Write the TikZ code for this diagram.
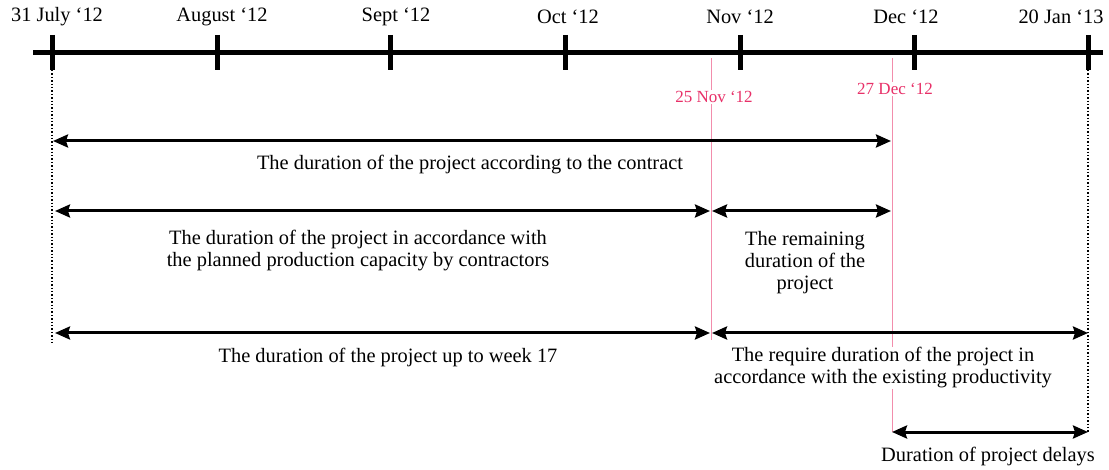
\documentclass[tikz,border=0pt]{standalone}
\usepackage{fontspec}
\setmainfont{Liberation Serif}
\usetikzlibrary{arrows.meta}

\definecolor{datepink}{RGB}{232,48,104}

\begin{document}
\begin{tikzpicture}[x=1pt, y=-1pt,
  span/.style={line width=3pt, {Stealth[length=15pt,width=13pt,inset=2pt]}-{Stealth[length=15pt,width=13pt,inset=2pt]}},
  txt/.style={font=\fontsize{20.4}{22}\selectfont, align=center, inner sep=1pt, fill=white},
  datetxt/.style={font=\fontsize{17}{18}\selectfont, text=datepink, fill=white, inner sep=1pt},
  guide/.style={dotted, line width=1.4pt},
  pinkline/.style={datepink!55, line width=0.9pt}]

\useasboundingbox (0,0) rectangle (1109,470);

% time axis
\draw[line width=5pt] (33,53) -- (1103,53);
\foreach \x/\lx/\nm/\lab in {52/57/jul/31 July ‘12, 217/222/aug/August ‘12, 390/396/sep/Sept ‘12,
    565/568/oct/Oct ‘12, 740/740/nov/Nov ‘12, 914/906/dec/Dec ‘12, 1088/1061/jan/20 Jan ‘13}{
  \draw[line width=5pt] (\x,35) -- (\x,70);
  \coordinate (\nm) at (\x,70);
  \node[txt] (\nm lab) at (\lx,17) {\lab};
}

% dates inside the axis
\coordinate (n25) at (711,58);
\coordinate (d27) at (892,58);
\draw[pinkline] (n25) -- (711,340);
\draw[pinkline] (d27) -- (892,432);
\node[datetxt] (n25lab) at (714,97) {25 Nov ‘12};
\node[datetxt] (d27lab) at (895,89) {27 Dec ‘12};

\draw[guide] (jul) -- (52,345);
\draw[guide] (jan) -- (1088,432);

% durations
\coordinate (a1l) at (53,141);  \coordinate (a1r) at (891,141);
\coordinate (a2l) at (55,211);  \coordinate (a2m) at (710,211);
\coordinate (a2n) at (712,211); \coordinate (a2r) at (891,211);
\coordinate (a3l) at (55,333);  \coordinate (a3m) at (710,333);
\coordinate (a3n) at (712,333); \coordinate (a3r) at (1088,333);
\coordinate (a4l) at (892,432); \coordinate (a4r) at (1088,432);

\draw[span] (a1l) -- (a1r);
\draw[span] (a2l) -- (a2m);
\draw[span] (a2n) -- (a2r);
\draw[span] (a3l) -- (a3m);
\draw[span] (a3n) -- (a3r);
\draw[span] (a4l) -- (a4r);

\node[txt] (contract) at (470,165) {The duration of the project according to the contract};
\node[txt] (planned) at (358,251) {The duration of the project in accordance with\\the planned production capacity by contractors};
\node[txt] (remain) at (805,263) {The remaining\\duration of the\\project};
\node[txt] (week) at (388,357) {The duration of the project up to week 17};
\node[txt] (require) at (883,368) {The require duration of the project in\\accordance with the existing productivity};
\node[txt] (delay) at (988,457) {Duration of project delays};

\end{tikzpicture}
\end{document}
